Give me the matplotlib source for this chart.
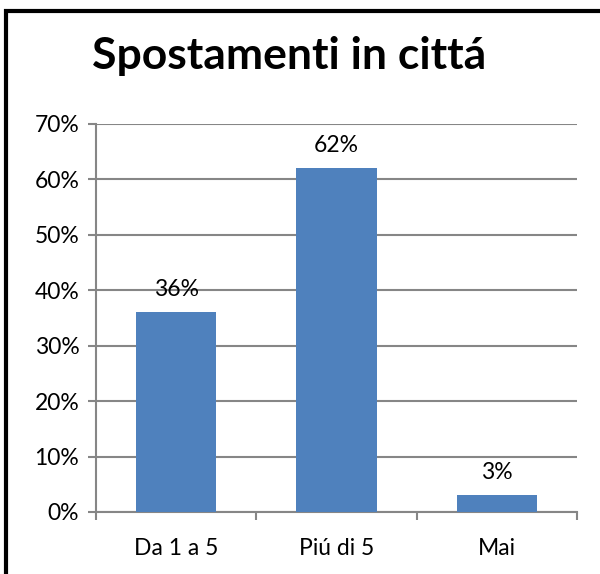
import matplotlib
matplotlib.use("Agg")
import matplotlib.pyplot as plt
from matplotlib.patches import Rectangle
from matplotlib.ticker import FuncFormatter, MultipleLocator

categories = ["Da 1 a 5", "Piú di 5", "Mai"]
values = [36, 62, 3]
title = "Spostamenti in cittá"

plt.rcParams['font.family'] = ['Lato', 'DejaVu Sans']

fig = plt.figure(figsize=(6.0, 5.74), dpi=100)
W, H = 600, 574
ax = fig.add_axes([96 / W, 1 - 512 / H, (577 - 96) / W, (512 - 124) / H])

x = list(range(len(categories)))
ax.bar(x, values, width=0.5, color="#4F81BD", zorder=3)
for xi, v in zip(x, values):
    ax.annotate(f"{v}%", (xi, v), xytext=(0, 9), textcoords="offset points",
                ha="center", va="bottom", fontsize=16.5, color="black")

ax.set_xlim(-0.5, len(categories) - 0.5)
ax.set_ylim(0, 70)
ax.yaxis.set_major_locator(MultipleLocator(10))
ax.yaxis.set_major_formatter(FuncFormatter(lambda v, p: f"{int(round(v))}%"))
ax.grid(axis="y", color="#868686", linewidth=1.5, zorder=0)
ax.set_xticks(x)
ax.set_xticklabels(categories)
ax.set_xticks([-0.5 + i for i in range(len(categories) + 1)], minor=True)
ax.tick_params(axis="x", which="major", length=0, labelsize=16.5, pad=19)
ax.tick_params(axis="x", which="minor", length=6, width=1.5, color="#868686", direction="out")
ax.tick_params(axis="y", length=6, width=1.5, color="#868686", labelsize=16.5, pad=6)
for s in ["top", "right"]:
    ax.spines[s].set_visible(False)
ax.spines["left"].set_color("#868686")
ax.spines["left"].set_linewidth(1.5)
ax.spines["bottom"].set_color("#868686")
ax.spines["bottom"].set_linewidth(1.5)

fig.text(92 / W, 1 - 69 / H, title, fontsize=32, fontweight="bold",
         ha="left", va="baseline")

fig.patches.append(Rectangle((6 / W, -0.1), 1.2, 1 - 11 / H + 0.1,
                             transform=fig.transFigure, fill=False,
                             edgecolor="black", linewidth=3, zorder=10))

fig.savefig("out.png", dpi=100)
